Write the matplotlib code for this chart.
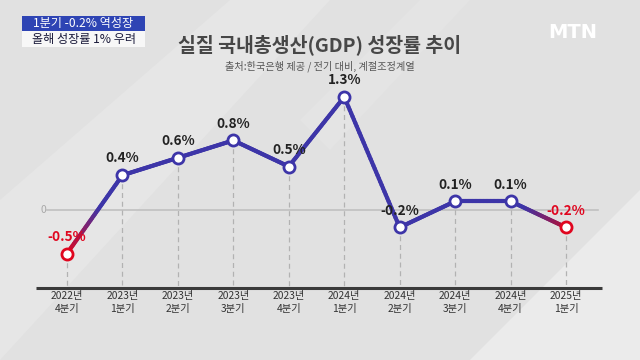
import matplotlib
matplotlib.use("Agg")
import matplotlib.pyplot as plt
import numpy as np
from matplotlib.collections import LineCollection
from matplotlib.colors import to_rgb
from matplotlib.patches import Rectangle, Polygon

plt.rcParams['font.family'] = ['Noto Sans CJK KR', 'DejaVu Sans']

years = ['2022년', '2023년', '2023년', '2023년', '2023년', '2024년', '2024년', '2024년', '2024년', '2025년']
quarters = ['4분기', '1분기', '2분기', '3분기', '4분기', '1분기', '2분기', '3분기', '4분기', '1분기']
values = [-0.5, 0.4, 0.6, 0.8, 0.5, 1.3, -0.2, 0.1, 0.1, -0.2]
labels = ['-0.5%', '0.4%', '0.6%', '0.8%', '0.5%', '1.3%', '-0.2%', '0.1%', '0.1%', '-0.2%']
red_points = [0, 9]

title = '실질 국내총생산(GDP) 성장률 추이'
subtitle = '출처:한국은행 제공 / 전기 대비, 계절조정계열'
badge1 = '1분기 -0.2% 역성장'
badge2 = '올해 성장률 1% 우려'

W, H = 640, 360
fig = plt.figure(figsize=(6.4, 3.6), dpi=100)
fig.patch.set_facecolor('#e1e1e1')

# background decoration
bg = fig.add_axes([0, 0, 1, 1])
bg.set_xlim(0, W); bg.set_ylim(H, 0); bg.axis('off')
bg.add_patch(Polygon([[0, 360], [0, 200], [230, 0], [330, 0]], closed=True, fc='#e6e6e6', ec='none'))
bg.add_patch(Polygon([[470, 360], [640, 190], [640, 360]], closed=True, fc='#ebebeb', ec='none'))
bg.add_patch(Polygon([[300, 120], [420, 0], [470, 0], [330, 150]], closed=True, fc='#e4e4e4', ec='none'))

# data axes
BLUE = '#3d35a8'
RED = '#e0061f'
x0px, x9px = 67, 566
step = (x9px - x0px) / 9
zero_px, per = 210, 87
ax = fig.add_axes([0, 0, 1, 1])
ax.patch.set_alpha(0)
ax.set_xlim(-x0px / step, 9 + (W - x9px) / step)
ax.set_ylim(-(H - zero_px) / per, zero_px / per)
ax.axis('off')

x = np.arange(len(values))
base_y = (zero_px - 288) / per

# zero line
ax.plot([(47 - x0px) / step, (598 - x0px) / step], [0, 0], color='#c0c0c0', lw=1.2, zorder=1)
ax.text((43 - x0px) / step, 0, '0', color='#a8a8a8', fontsize=7.5, ha='center', va='center')

# dashed verticals
for xi, v in zip(x, values):
    ax.plot([xi, xi], [v, base_y], color='#b2b2b2', lw=0.9, ls=(0, (4, 3)), zorder=1)

# baseline
ax.plot([(36 - x0px) / step, (602 - x0px) / step], [base_y, base_y], color='#3a3a3a', lw=2.2, zorder=2,
        solid_capstyle='butt')

# gradient line
def seg_colors(i, n):
    t = np.linspace(0, 1, n)
    b = np.array(to_rgb(BLUE)); r = np.array(to_rgb(RED)); m = np.array(to_rgb('#b0103a'))
    cols = []
    for tt in t:
        if i == 0:
            f = min(tt / 0.6, 1.0)
            cols.append(r * (1 - f) + b * f)
        elif i == 8:
            f = max((tt - 0.25) / 0.75, 0.0)
            cols.append(b * (1 - f) + m * f)
        else:
            cols.append(b)
    return cols

segs, cols = [], []
n = 40
for i in range(len(values) - 1):
    xs = np.linspace(x[i], x[i + 1], n + 1)
    ys = np.linspace(values[i], values[i + 1], n + 1)
    c = seg_colors(i, n)
    for k in range(n):
        segs.append([(xs[k], ys[k]), (xs[k + 1], ys[k + 1])])
        cols.append(c[k])
lc = LineCollection(segs, colors=cols, linewidths=3.0, capstyle='round', zorder=3)
ax.add_collection(lc)

for i, (xi, v) in enumerate(zip(x, values)):
    ec = RED if i in red_points else BLUE
    ax.plot(xi, v, 'o', ms=8, mfc='white', mec=ec, mew=2.0, zorder=4)
    tc = RED if i in red_points else '#222222'
    ax.annotate(labels[i], (xi, v), xytext=(0, 7), textcoords='offset points', ha='center', va='bottom',
                fontsize=9.8, fontweight='bold', color=tc, zorder=5)

# tick labels
for xi, yl, ql in zip(x, years, quarters):
    ax.annotate(yl + '\n' + ql, (xi, base_y), xytext=(0, -2.5), textcoords='offset points', ha='center', va='top',
                fontsize=7.4, color='#333333', linespacing=1.3)

# titles
fig.text(0.5, 1 - 45 / H, title, ha='center', va='center', fontsize=14, color='#474747', fontweight='bold')
fig.text(0.5, 1 - 66 / H, subtitle, ha='center', va='center', fontsize=7.3, color='#555555')

# MTN logo
fig.text(573 / W, 1 - 32 / H, 'MTN', ha='center', va='center', fontsize=14, color='white', fontweight='bold',
         family=['DejaVu Sans'])

# badges
bg.add_patch(Rectangle((22, 16), 123, 15, fc='#2e44b4', ec='none', zorder=5))
bg.add_patch(Rectangle((22, 31), 123, 16, fc='#f7f7f7', ec='none', zorder=5))
bg.text(83.5, 23.5, badge1, ha='center', va='center', fontsize=8.7, color='white', zorder=6)
bg.text(83.5, 39, badge2, ha='center', va='center', fontsize=8.7, color='#1a1a3a', zorder=6)

fig.savefig('out.png', dpi=100, facecolor=fig.get_facecolor())
